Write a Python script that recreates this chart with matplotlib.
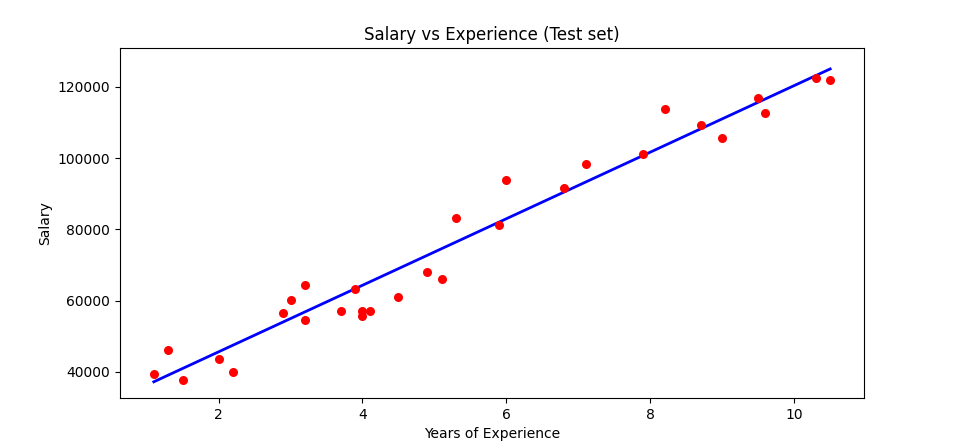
import matplotlib
matplotlib.use("Agg")
import matplotlib.pyplot as plt
import numpy as np

years = [1.1, 1.3, 1.5, 2.0, 2.2, 2.9, 3.0, 3.2, 3.2, 3.7, 3.9, 4.0, 4.0, 4.1, 4.5,
         4.9, 5.1, 5.3, 5.9, 6.0, 6.8, 7.1, 7.9, 8.2, 8.7, 9.0, 9.5, 9.6, 10.3, 10.5]
salary = [39343, 46205, 37731, 43525, 39891, 56642, 60150, 54445, 64445, 57189,
          63218, 55794, 56957, 57081, 61111, 67938, 66029, 83088, 81363, 93940,
          91738, 98273, 101302, 113812, 109431, 105582, 116969, 112635, 122391, 121872]

# regression line coefficients
slope = 9346
intercept = 26920

x = np.array(years)
pred = slope * x + intercept

fig, ax = plt.subplots(figsize=(9.6, 4.48), dpi=100)
fig.subplots_adjust(left=0.125, right=0.9, top=0.893, bottom=0.112)
ax.scatter(years, salary, color="red", s=30, zorder=3)
ax.plot(x, pred, color="blue", linewidth=2)
ax.set_title("Salary vs Experience (Test set)")
ax.set_xlabel("Years of Experience")
ax.set_ylabel("Salary")
ax.set_ylim(32700, 130950)
ax.set_xlim(0.63, 10.97)
plt.savefig("out.png", dpi=100)
